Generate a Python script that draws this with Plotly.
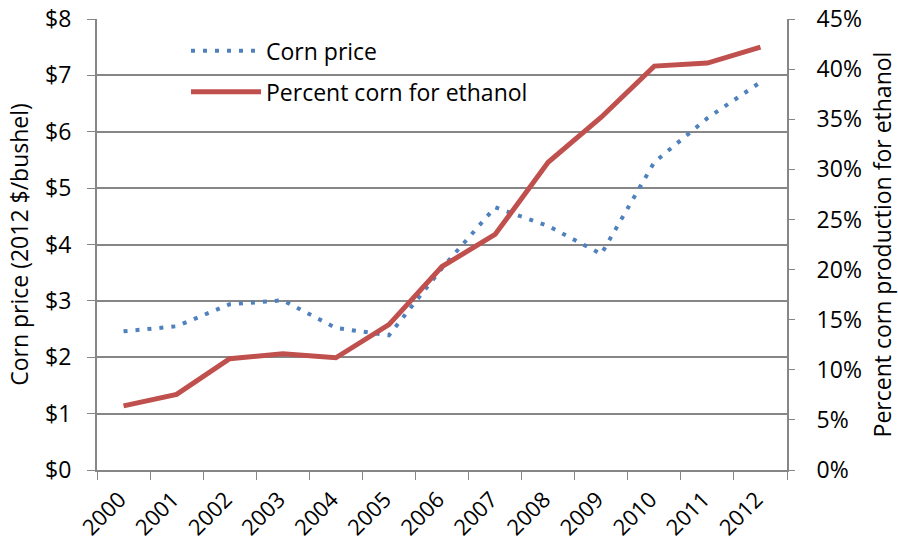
import plotly.graph_objects as go

years = [str(y) for y in range(2000, 2013)]
corn_price = [2.46, 2.55, 2.94, 3.01, 2.52, 2.39, 3.58, 4.66, 4.33, 3.83, 5.46, 6.24, 6.88]
pct_ethanol = [0.064, 0.0755, 0.111, 0.116, 0.112, 0.145, 0.203, 0.235, 0.307, 0.352, 0.403, 0.406, 0.422]

FONT = "Open Sans"
FS = 23
fig = go.Figure()
fig.add_trace(go.Scatter(
    x=years, y=corn_price, name="Corn price", mode="lines",
    line=dict(color="#4F81BD", width=4, dash="4px,8px"),
    legendgroup="a", yaxis="y",
))
fig.add_trace(go.Scatter(
    x=years, y=pct_ethanol, name="Percent corn for ethanol", mode="lines",
    line=dict(color="#C0504D", width=5),
    legendgroup="b", yaxis="y2",
))

fig.update_layout(
    width=898, height=545,
    margin=dict(l=97, r=111, t=19, b=75),
    paper_bgcolor="white", plot_bgcolor="white",
    font=dict(family=FONT, size=FS, color="black"),
    showlegend=True,
    legend=dict(x=0.129, y=0.977, xanchor="left", yanchor="top",
                bgcolor="rgba(0,0,0,0)", traceorder="grouped",
                tracegroupgap=8, itemwidth=70, font=dict(size=FS)),
    xaxis=dict(
        type="category", tickangle=-45, tickson="boundaries",
        range=[-0.5, len(years) - 0.5], automargin=False,
        ticks="outside", ticklen=8, tickcolor="#868686",
        showline=True, linecolor="#868686", linewidth=2,
        showgrid=False, tickfont=dict(size=22),
        ticklabelshift=-4, ticklabelstandoff=6,
    ),
    yaxis=dict(
        range=[0, 8], dtick=1, tickprefix="$", tickformat="d",
        automargin=False,
        ticks="outside", ticklen=8, tickcolor="#868686",
        showline=True, linecolor="#868686", linewidth=2,
        showgrid=True, gridcolor="#868686", gridwidth=2,
        zeroline=False, ticklabelstandoff=11,
        title=dict(text="Corn price (2012 $/bushel)", font=dict(size=FS), standoff=10),
    ),
    yaxis2=dict(
        range=[0, 0.45], dtick=0.05, tickformat=".0%",
        overlaying="y", side="right", automargin=False,
        ticks="outside", ticklen=6, tickcolor="#868686",
        showline=True, linecolor="#868686", linewidth=2,
        showgrid=False, zeroline=False, ticklabelstandoff=17,
        title=dict(text="Percent corn production for ethanol", font=dict(size=FS), standoff=18),
    ),
)

fig.write_html("out.html")
